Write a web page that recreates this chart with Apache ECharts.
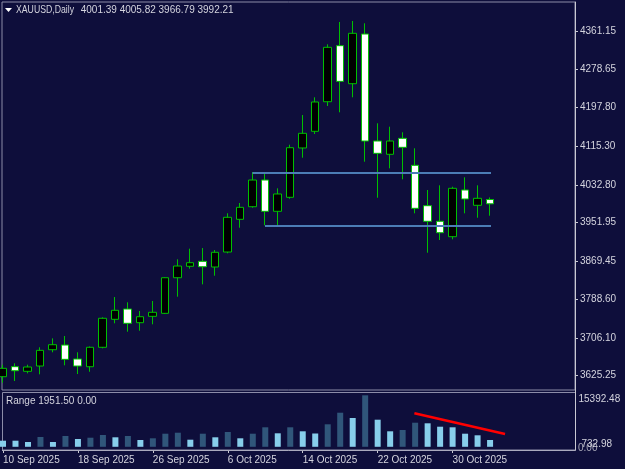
<!DOCTYPE html>
<html><head><meta charset="utf-8">
<script src="https://cdn.jsdelivr.net/npm/echarts@6/dist/echarts.min.js"></script>
<style>html,body{margin:0;padding:0;background:#0e0e3b;}#c{width:625px;height:469px;}</style>
</head><body><div id="c"></div>
<script>
const symbolName = 'XAUUSD,Daily';
const dates = ['10 Sep 2025','11 Sep 2025','12 Sep 2025','15 Sep 2025','16 Sep 2025','17 Sep 2025','18 Sep 2025','19 Sep 2025','22 Sep 2025','23 Sep 2025','24 Sep 2025','25 Sep 2025','26 Sep 2025','29 Sep 2025','30 Sep 2025','1 Oct 2025','2 Oct 2025','3 Oct 2025','6 Oct 2025','7 Oct 2025','8 Oct 2025','9 Oct 2025','10 Oct 2025','13 Oct 2025','14 Oct 2025','15 Oct 2025','16 Oct 2025','17 Oct 2025','20 Oct 2025','21 Oct 2025','22 Oct 2025','23 Oct 2025','24 Oct 2025','27 Oct 2025','28 Oct 2025','29 Oct 2025','30 Oct 2025','31 Oct 2025','3 Nov 2025','4 Nov 2025'];
const openP  = [3623.1,3644.5,3634.6,3645.9,3680.7,3690.7,3660.9,3644.4,3685.9,3745.6,3767.6,3738.4,3752.0,3758.4,3834.4,3858.8,3869.4,3857.3,3889.3,3959.1,3986.0,4043.0,3976.2,4006.1,4111.4,4147.0,4210.2,4329.8,4248.6,4354.7,4126.3,4097.9,4132.0,4074.4,3988.2,3954.9,3922.0,4021.7,3989.0,4001.39];
const highP  = [3648.7,3651.7,3648.7,3685.9,3705.0,3710.0,3675.2,3687.6,3749.9,3793.2,3781.9,3763.3,3784.7,3835.3,3873.7,3896.4,3897.8,3893.6,3972.0,3993.9,4060.0,4059.5,4025.3,4118.4,4181.8,4219.6,4332.7,4380.4,4382.5,4377.6,4164.1,4156.8,4144.9,4110.7,4021.7,4031.7,4028.7,4048.8,4031.7,4005.82];
const lowP   = [3610.3,3613.9,3630.3,3628.2,3675.2,3647.4,3628.8,3633.7,3683.7,3737.1,3719.2,3721.3,3735.0,3757.0,3793.9,3853.7,3820.3,3838.7,3886.6,3941.2,3983.9,3946.3,3947.0,4003.1,4090.6,4141.2,4201.0,4187.6,4219.6,4082.1,4005.2,4068.0,4044.5,3971.9,3887.8,3914.9,3916.4,3971.9,3962.5,3966.79];
const closeP = [3641.0,3635.9,3643.8,3679.4,3691.4,3660.2,3645.9,3685.9,3747.8,3764.9,3737.1,3751.2,3760.6,3834.4,3859.4,3866.5,3857.9,3888.7,3963.4,3984.7,4043.0,3976.2,4013.2,4112.0,4142.7,4209.6,4326.3,4253.7,4356.2,4126.3,4100.0,4126.3,4112.8,3982.6,3954.9,3930.5,4025.3,4002.5,4004.0,3992.21];
const rangeVals = [1750,1750,1377,2812,1377,3099,2238,2611,3385,2726,3099,1951,2439,3758,4045,2037,3758,2726,4246,2439,3758,5595,3873,5595,4447,3816,6455,9783,8263,14775,7775,4447,4820,6914,6742,5767,5595,3758,3299,1951.5];
const priceTicks = [3625.25,3706.10,3788.60,3869.45,3951.95,4032.80,4115.30,4197.80,4278.65,4361.15];
const dateTickIdx = [0,6,12,18,24,30,36];
const priceMin = 3594.72, priceMax = 4423.06;
const subMax = 15392.48, subLow = 732.98;
const levelUpper = {from: 20, to: 39.08, price: 4059.5};
const levelLower = {from: 21, to: 39.08, price: 3946.3};
const trendLine = [[32.94, 9611], [40.2, 3672]];

const FONT = 'Liberation Sans, Arial, sans-serif';
const TXT = '#d4d4de';
const n = dates.length;
const last = n - 1;
const candleData = dates.map((d, i) => [i, openP[i], closeP[i], lowP[i], highP[i]]);
const barData = rangeVals.map((v, i) => ({
  value: [i, v],
  itemStyle: {color: (i > 0 && v > rangeVals[i - 1]) ? '#30567a' : '#87ceeb'}
}));

const chart = echarts.init(document.getElementById('c'), null, {renderer: 'canvas'});
chart.setOption({
  animation: false,
  backgroundColor: '#0e0e3b',
  textStyle: {fontFamily: FONT},
  grid: [
    {left: 2, right: 50, top: 2, height: 388, show: true, borderColor: '#8c8ca8', borderWidth: 1},
    {left: 2, right: 50, top: 393.15, height: 53.65}
  ],
  xAxis: [
    {type: 'value', gridIndex: 0, min: -0.04, max: 45.8, axisLine: {show: false, onZero: false}, axisTick: {show: false}, axisLabel: {show: false}, splitLine: {show: false}},
    {type: 'value', gridIndex: 1, min: -0.04, max: 45.8, offset: 3.2,
     axisLine: {show: true, onZero: false, lineStyle: {color: '#c8c8d2', width: 1}},
     axisTick: {show: true, length: 3, customValues: dateTickIdx, lineStyle: {color: '#c8c8d2'}},
     axisLabel: {show: true, customValues: dateTickIdx, align: 'left', margin: 5, color: TXT, fontSize: 10, fontFamily: FONT, formatter: v => dates[Math.round(v)]},
     splitLine: {show: false}}
  ],
  yAxis: [
    {type: 'value', gridIndex: 0, position: 'right', min: priceMin, max: priceMax,
     axisLine: {show: true, onZero: false, lineStyle: {color: '#c8c8d2', width: 1}},
     axisTick: {show: true, length: 3, customValues: priceTicks, lineStyle: {color: '#c8c8d2'}},
     axisLabel: {show: true, customValues: priceTicks, margin: 5, color: TXT, fontSize: 10, fontFamily: FONT, formatter: v => v.toFixed(2)},
     splitLine: {show: false}},
    {type: 'value', gridIndex: 1, position: 'right', min: 0, max: subMax,
     axisLine: {show: false, onZero: false}, axisTick: {show: false}, axisLabel: {show: false}, splitLine: {show: false}}
  ],
  series: [
    {type: 'candlestick', xAxisIndex: 0, yAxisIndex: 0, data: candleData,
     encode: {x: 0, y: [1, 2, 3, 4]}, barWidth: 8, clip: true,
     itemStyle: {color: '#000000', color0: '#ffffff', borderColor: '#00c000', borderColor0: '#00c000', borderWidth: 1},
     markLine: {
       silent: true, symbol: ['none', 'none'], animation: false,
       data: [
         [{coord: [levelUpper.from, levelUpper.price], lineStyle: {color: '#4c7db6', width: 2, type: 'solid'}, label: {show: false}},
          {coord: [levelUpper.to, levelUpper.price]}],
         [{coord: [levelLower.from, levelLower.price], lineStyle: {color: '#4c7db6', width: 2, type: 'solid'}, label: {show: false}},
          {coord: [levelLower.to, levelLower.price]}],
         {yAxis: closeP[last], lineStyle: {opacity: 0, width: 0},
          label: {show: true, position: 'end', distance: 2, formatter: () => closeP[last].toFixed(2),
                  backgroundColor: '#ffffff', color: '#000000', padding: [1, 3, 0, 3], lineHeight: 11, fontSize: 10, fontFamily: FONT}}
       ]
     }},
    {type: 'bar', xAxisIndex: 1, yAxisIndex: 1, data: barData, barWidth: 6, clip: true,
     markLine: {
       silent: true, symbol: ['none', 'none'], animation: false,
       data: [[{coord: trendLine[0], lineStyle: {color: '#ff0000', width: 2.5, type: 'solid'}, label: {show: false}},
               {coord: trendLine[1]}]]
     }}
  ],
  graphic: [
    {type: 'rect', shape: {x: 2.5, y: 392.5, width: 573, height: 57.5}, style: {fill: 'none', stroke: '#8c8ca8', lineWidth: 1}, z: 1},
    {type: 'line', shape: {x1: 575.5, y1: 2, x2: 575.5, y2: 450.5}, style: {stroke: '#c8c8d2', lineWidth: 1}, z: 5},
    {type: 'polygon', shape: {points: [[5, 8], [12, 8], [8.5, 12]]}, style: {fill: '#ffffff'}, z: 10},
    {type: 'text', x: 16, y: 10, scaleX: 0.87, z: 10, style: {text: symbolName, fill: TXT, font: `10px ${FONT}`, verticalAlign: 'middle'}},
    {type: 'text', x: 80.7, y: 10, z: 10, style: {text: `${openP[last].toFixed(2)} ${highP[last].toFixed(2)} ${lowP[last].toFixed(2)} ${closeP[last].toFixed(2)}`, fill: TXT, font: `10px ${FONT}`, verticalAlign: 'middle'}},
    {type: 'text', x: 6, y: 401, z: 10, style: {text: `Range ${rangeVals[last].toFixed(2)} 0.00`, fill: TXT, font: `10px ${FONT}`, verticalAlign: 'middle'}},
    {type: 'text', x: 578.5, y: 399, z: 10, style: {text: subMax.toFixed(2), fill: TXT, font: `10px ${FONT}`, verticalAlign: 'middle'}},
    {type: 'text', x: 578, y: 448, z: 10, style: {text: (0).toFixed(2), fill: '#a8a8b8', font: `10px ${FONT}`, verticalAlign: 'middle'}},
    {type: 'text', x: 581.5, y: 444, z: 11, style: {text: subLow.toFixed(2), fill: TXT, font: `10px ${FONT}`, verticalAlign: 'middle'}}
  ]
});
</script></body></html>
